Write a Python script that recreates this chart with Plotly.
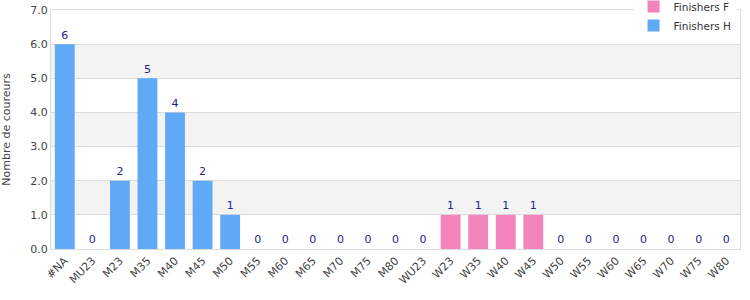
import plotly.graph_objects as go

categories = ["#NA", "MU23", "M23", "M35", "M40", "M45", "M50", "M55", "M60", "M65",
              "M70", "M75", "M80", "WU23", "W23", "W35", "W40", "W45", "W50", "W55",
              "W60", "W65", "W70", "W75", "W80"]
finishers_h = [6, 0, 2, 5, 4, 2, 1, 0, 0, 0, 0, 0, 0, 0,
               None, None, None, None, None, None, None, None, None, None, None]
finishers_f = [None, None, None, None, None, None, None, None, None, None, None, None, None, None,
               1, 1, 1, 1, 0, 0, 0, 0, 0, 0, 0]
y_ticks = [0, 1, 2, 3, 4, 5, 6, 7]

labels = [h if h is not None else f for h, f in zip(finishers_h, finishers_f)]

fig = go.Figure()
fig.add_trace(go.Bar(x=categories, y=finishers_f, name="Finishers F", width=0.72,
                     marker=dict(color="#f383bb", line=dict(width=0))))
fig.add_trace(go.Bar(x=categories, y=finishers_h, name="Finishers H", width=0.72,
                     marker=dict(color="#60a9f6", line=dict(width=0))))
fig.add_trace(go.Scatter(x=categories, y=labels, mode="markers+text", text=[str(v) for v in labels],
                         marker=dict(size=3, opacity=0),
                         textposition="top center", showlegend=False, hoverinfo="skip",
                         textfont=dict(color="#1f1f8f", size=11, family="DejaVu Sans")))

shapes = []
for t in y_ticks[1:-1:2]:
    shapes.append(dict(type="rect", xref="paper", yref="y", x0=0, x1=1, y0=t, y1=t + 1,
                       fillcolor="#f3f3f3", line=dict(width=0), layer="below"))

fig.update_layout(
    width=750, height=300,
    margin=dict(l=51, r=10, t=10, b=51, autoexpand=False),
    plot_bgcolor="white", paper_bgcolor="white",
    barmode="overlay",
    shapes=shapes,
    font=dict(family="DejaVu Sans", size=11, color="#444"),
    legend=dict(x=0.995, y=1.075, xanchor="right", yanchor="top", bgcolor="white",
                font=dict(size=10.5, color="#333"), itemwidth=30, tracegroupgap=0),
    xaxis=dict(tickangle=-45, showline=True, linecolor="#dcdcdc", mirror=True,
               range=[-0.5, len(categories) - 0.5],
               tickfont=dict(size=11), showgrid=False, ticks="", automargin=False),
    yaxis=dict(range=[0, 7], tickvals=y_ticks, tickformat=".1f", showline=True,
               linecolor="#dcdcdc", mirror=True, gridcolor="#dcdcdc", zeroline=False,
               title=dict(text="Nombre de coureurs", font=dict(size=11), standoff=18),
               ticks="", automargin=False),
)
fig.write_html("out.html")
